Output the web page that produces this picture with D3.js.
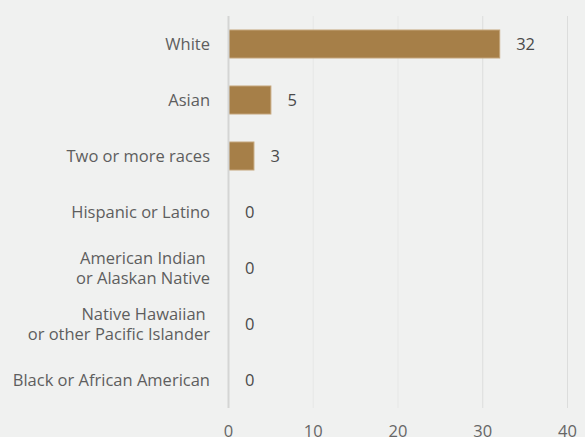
<!DOCTYPE html>
<html>
<head>
<meta charset="utf-8">
<script src="https://cdn.jsdelivr.net/npm/d3@7"></script>
<style>
  body { margin: 0; background: #f0f1f0; }
  svg { display: block; font-family: "Open Sans", sans-serif; }
</style>
</head>
<body>
<svg id="chart" width="585" height="437"></svg>
<script>
var categories = [
    "White",
    "Asian",
    "Two or more races",
    "Hispanic or Latino",
    "American Indian \nor Alaskan Native",
    "Native Hawaiian \nor other Pacific Islander",
    "Black or African American"
];
var values = [32, 5, 3, 0, 0, 0, 0];
var tickValues = [0, 10, 20, 30, 40];

var svg = d3.select("#chart");
var margin = {top: 16, left: 228, right: 18, bottom: 29};
var width = 585 - margin.left - margin.right;
var height = 437 - margin.top - margin.bottom;
var fontSize = "16.5px";

var x = d3.scaleLinear().domain([0, 40]).range([0, 339]);
var y = d3.scaleBand().domain(categories).range([0, height]).paddingInner(0.5).paddingOuter(0.25);

var g = svg.append("g").attr("transform", "translate(" + margin.left + "," + margin.top + ")");

// grid lines
g.selectAll(".grid").data(tickValues.slice(1)).enter().append("line")
    .attr("x1", function (d) { return x(d) + 0.5; })
    .attr("x2", function (d) { return x(d) + 0.5; })
    .attr("y1", 0).attr("y2", height)
    .attr("stroke", function (d) { return d >= 30 ? "#dcdddc" : "#e6e7e6"; })
    .attr("stroke-width", 1);

// bottom axis labels only
var xAxis = d3.axisBottom(x).tickValues(tickValues).tickSize(0).tickPadding(17);
var ax = g.append("g").attr("transform", "translate(0," + height + ")").call(xAxis);
ax.select(".domain").remove();
ax.selectAll("text").attr("fill", "#666").style("font-size", fontSize).style("font-family", "'Open Sans', sans-serif");

// bars
g.selectAll(".bar").data(values).enter().append("rect")
    .attr("x", 0.5)
    .attr("y", function (d, i) { return y(categories[i]); })
    .attr("width", function (d) { return x(d); })
    .attr("height", y.bandwidth())
    .attr("fill", "#a67f48")
    .attr("stroke", function (d) { return d > 0 ? "#c4a57a" : "none"; })
    .attr("stroke-width", 1);

// zero line
g.append("line")
    .attr("x1", 0.5).attr("x2", 0.5)
    .attr("y1", 0).attr("y2", height)
    .attr("stroke", "#d4d5d4").attr("stroke-width", 2);

// value labels
g.selectAll(".val").data(values).enter().append("text")
    .attr("x", function (d) { return x(d) + 17; })
    .attr("y", function (d, i) { return y(categories[i]) + y.bandwidth() / 2; })
    .attr("dy", "0.35em")
    .attr("fill", "#4a4a4a")
    .style("font-size", fontSize)
    .text(function (d) { return d; });

// category labels
var lab = g.selectAll(".cat").data(categories).enter().append("text")
    .attr("text-anchor", "end")
    .attr("fill", "#5e5e5e")
    .style("font-size", fontSize)
    .style("white-space", "pre")
    .attr("y", function (d) { return y(d) + y.bandwidth() / 2; });

lab.each(function (d) {
    var lines = d.split("\n");
    var t = d3.select(this);
    lines.forEach(function (line, k) {
        t.append("tspan")
            .attr("x", -18)
            .attr("dy", k == 0 ? (0.35 - (lines.length - 1) * 0.6) + "em" : "1.2em")
            .text(line);
    });
});
</script>
</body>
</html>
